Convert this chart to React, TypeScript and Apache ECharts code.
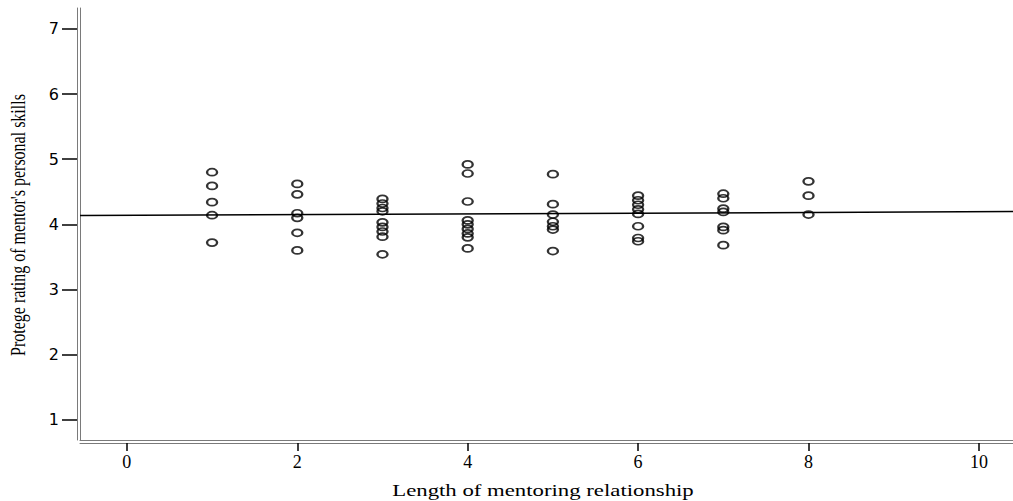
import React, { useEffect, useRef } from "react";
import * as echarts from "echarts";

// Length of mentoring relationship (x) and protege ratings (y) per length
const lengths = [1, 2, 3, 4, 5, 6, 7, 8];
const ratingsByLength: number[][] = [
  [4.8, 4.59, 4.34, 4.14, 3.72],
  [4.62, 4.46, 4.17, 4.1, 3.87, 3.6],
  [4.39, 4.32, 4.25, 4.2, 4.03, 3.96, 3.89, 3.81, 3.54],
  [4.92, 4.78, 4.35, 4.06, 4.0, 3.93, 3.86, 3.8, 3.63],
  [4.77, 4.31, 4.15, 4.04, 3.97, 3.92, 3.59],
  [4.44, 4.37, 4.3, 4.23, 4.16, 3.97, 3.79, 3.74],
  [4.47, 4.4, 4.24, 4.19, 3.96, 3.91, 3.68],
  [4.66, 4.44, 4.15],
];
const fitX = [-0.55, 10.4];
const fitY = [4.135, 4.195];
const xTicks = [0, 2, 4, 6, 8, 10];
const yTicks = [1, 2, 3, 4, 5, 6, 7];
const xTitle = "Length of mentoring relationship";
const yTitle = "Protege rating of mentor's personal skills";

const ellipse = "path://M0,5 A5,3.5 0 1,1 10,5 A5,3.5 0 1,1 0,5 Z";

export default function App() {
  const ref = useRef<HTMLDivElement>(null);
  useEffect(() => {
    if (!ref.current) return;
    const chart = echarts.init(ref.current, null, { renderer: "svg" });
    const points: number[][] = [];
    lengths.forEach((len, i) => {
      ratingsByLength[i].forEach((v) => points.push([len, v]));
    });
    const xRange = { min: fitX[0], max: fitX[1] };
    const yRange = { min: 0.69, max: 7.32 };
    const axisGray = { color: "#7a7a7a", width: 1 };
    chart.setOption({
      animation: false,
      backgroundColor: "#ffffff",
      grid: { left: 80, top: 8, right: 0, bottom: 61, containLabel: false },
      xAxis: [
        {
          type: "value",
          ...xRange,
          offset: 3,
          position: "bottom",
          axisLine: { show: true, onZero: false, lineStyle: axisGray },
          axisTick: { show: true, length: 8, customValues: xTicks, lineStyle: { color: "#000", width: 1.5 } },
          axisLabel: {
            customValues: xTicks,
            margin: 10,
            fontFamily: "Liberation Serif",
            fontSize: 18,
            color: "#000",
          },
          splitLine: { show: false },
        },
        {
          type: "value",
          ...xRange,
          position: "bottom",
          offset: 0,
          axisLine: { show: true, onZero: false, lineStyle: axisGray },
          axisTick: { show: false },
          axisLabel: { show: false },
          splitLine: { show: false },
        },
      ],
      yAxis: [
        {
          type: "value",
          ...yRange,
          offset: 3,
          position: "left",
          axisLine: { show: true, onZero: false, lineStyle: axisGray },
          axisTick: { show: true, length: 15, customValues: yTicks, lineStyle: { color: "#000", width: 1.5 } },
          axisLabel: {
            customValues: yTicks,
            margin: 18,
            fontFamily: "DejaVu Sans",
            fontSize: 16,
            color: "#000",
          },
          splitLine: { show: false },
        },
        {
          type: "value",
          ...yRange,
          position: "left",
          offset: 0,
          axisLine: { show: true, onZero: false, lineStyle: axisGray },
          axisTick: { show: false },
          axisLabel: { show: false },
          splitLine: { show: false },
        },
      ],
      series: [
        {
          type: "line",
          data: [
            [fitX[0], fitY[0]],
            [fitX[1], fitY[1]],
          ],
          symbol: "none",
          lineStyle: { color: "#000", width: 1.5 },
          z: 2,
        },
        {
          type: "scatter",
          data: points,
          symbol: ellipse,
          symbolSize: [10, 7],
          itemStyle: { color: "rgba(0,0,0,0)", borderColor: "#000", borderWidth: 2 },
          z: 3,
        },
      ],
      graphic: [
        {
          type: "text",
          x: 18,
          y: 225,
          rotation: Math.PI / 2,
          scaleY: 1.35,
          style: {
            text: yTitle,
            fontFamily: "Liberation Serif",
            fontSize: 16,
            fill: "#000",
            align: "center",
            verticalAlign: "middle",
          },
        },
        {
          type: "text",
          x: 543,
          y: 490,
          scaleX: 1.34,
          style: {
            text: xTitle,
            fontFamily: "Liberation Serif",
            fontSize: 17,
            fill: "#000",
            align: "center",
            verticalAlign: "middle",
          },
        },
      ],
    });
    return () => chart.dispose();
  }, []);
  return (
    <div
      ref={ref}
      style={{ position: "fixed", left: 0, top: 0, width: 1013, height: 501 }}
    />
  );
}
